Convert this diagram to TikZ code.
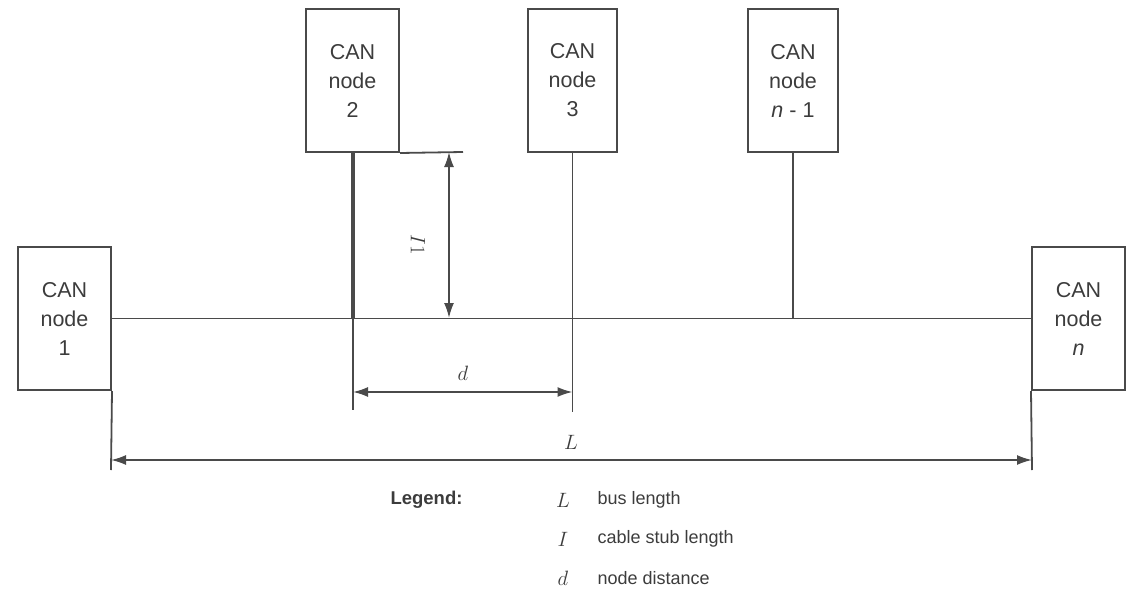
\documentclass[tikz,border=0pt]{standalone}
\usepackage{fontspec}
\setmainfont{Liberation Sans}
\usetikzlibrary{arrows.meta}
\definecolor{ln}{HTML}{4a4a4a}
\definecolor{tx}{HTML}{3c3c3c}
\tikzset{
  canbox/.style={draw=ln, line width=2pt, minimum height=143pt, align=center, text=tx,
    font=\fontsize{21.5}{29}\selectfont, inner sep=0pt},
  wire/.style={draw=ln, line width=1.8pt},
  dim/.style={draw=ln, line width=1.8pt, {Latex[length=15pt,width=10pt]}-{Latex[length=15pt,width=10pt]}},
  lbl/.style={text=tx, font=\fontsize{18}{20}\selectfont},
  sym/.style={text=tx, font=\fontsize{21}{22}\selectfont},
}
\begin{document}
\begin{tikzpicture}[x=1pt,y=-1pt]
\useasboundingbox (0,0) rectangle (1135,591);
% nodes
\node[canbox, minimum width=93pt] (n1) at (64.5,318.5) {CAN\\node\\1};
\node[canbox, minimum width=93pt] (nn) at (1078.5,318.5) {CAN\\node\\\textit{n}};
\node[canbox, minimum width=93pt] (n2) at (352.5,80.5) {CAN\\node\\2};
\node[canbox, minimum width=89pt] (n3) at (572.5,80.5) {CAN\\node\\3};
\node[canbox, minimum width=90pt] (nm) at (793,80.5) {CAN\\node\\\textit{n} - 1};
% bus taps
\coordinate (b2) at (353,318.5);
\coordinate (b3) at (572.5,318.5);
\coordinate (bm) at (793,318.5);
% bus and stubs
\draw[wire] (n1.east) -- (nn.west);
\draw[draw=ln, line width=4.5pt] (n2.south -| b2) -- (b2);
\draw[wire] (n3.south) -- (b3);
\draw[wire] (nm.south) -- (bm);
% extension lines
\coordinate (e2) at (353,410);
\coordinate (e3) at (572.5,412);
\draw[wire] (b2) -- (e2);
\draw[wire] (b3) -- (e3);
\coordinate (eL1) at (111,470);
\coordinate (eL2) at (1032,470);
\draw[wire] (n1.south east) -- (eL1);
\draw[wire] (nn.south west) -- (eL2);
\coordinate (lt) at (463,152);
\draw[wire] (n2.south east) -- (lt);
% dimensions
\coordinate (l1) at (449,152);
\coordinate (l2) at (449,318);
\draw[dim] (l1) -- (l2);
\node[sym, rotate=-90] (llab) at (418,245) {$I1$};
\coordinate (d1) at (353,392);
\coordinate (d2) at (572.5,392);
\draw[dim] (d1) -- (d2);
\node[sym] (dlab) at (463,373) {$d$};
\coordinate (L1) at (111,460);
\coordinate (L2) at (1032,460);
\draw[dim] (L1) -- (L2);
\node[sym] (Llab) at (571,442) {$L$};
% legend
\node[lbl, anchor=west, font=\fontsize{18.5}{20}\bfseries] (leg) at (387,500) {Legend:};
\node[sym] (s1) at (563,500) {$L$};
\node[sym] (s2) at (563,539) {$I$};
\node[sym] (s3) at (563,578) {$d$};
\node[lbl, anchor=west] (t1) at (594,500) {bus length};
\node[lbl, anchor=west] (t2) at (594,539) {cable stub length};
\node[lbl, anchor=west] (t3) at (594,578) {node distance};
\end{tikzpicture}
\end{document}
